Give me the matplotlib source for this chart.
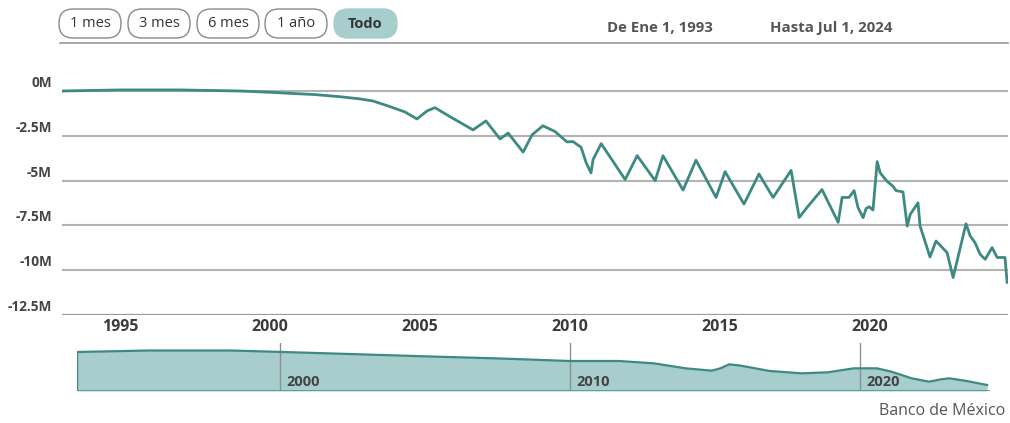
import matplotlib
matplotlib.use("Agg")
import matplotlib.pyplot as plt
from matplotlib.patches import FancyBboxPatch

plt.rcParams["font.family"] = ["Open Sans", "DejaVu Sans"]

# Balance series (millions), fractional years
years = [1993.00, 1994.93, 1996.93, 1998.93, 1999.93, 2000.60, 2001.43, 2002.27,
         2002.93, 2003.37, 2003.93, 2004.43, 2004.83, 2005.17, 2005.43, 2005.93,
         2006.70, 2007.13, 2007.60, 2007.87, 2008.37, 2008.67, 2009.03, 2009.43,
         2009.83, 2010.03, 2010.30, 2010.47, 2010.63, 2010.70, 2010.97, 2011.77,
         2012.17, 2012.77, 2013.03, 2013.70, 2014.13, 2014.80, 2015.10, 2015.73,
         2016.23, 2016.70, 2017.30, 2017.57, 2017.83, 2018.33, 2018.87, 2019.00,
         2019.23, 2019.40, 2019.53, 2019.70, 2019.80, 2019.90, 2020.03, 2020.17,
         2020.27, 2020.50, 2020.70, 2020.80, 2021.03, 2021.17, 2021.27, 2021.53,
         2021.60, 2021.93, 2022.13, 2022.50, 2022.70, 2023.13, 2023.27, 2023.43,
         2023.60, 2023.77, 2024.00, 2024.17, 2024.43, 2024.50]
values = [0.00, 0.06, 0.06, 0.00, -0.07, -0.13, -0.20, -0.32,
          -0.44, -0.56, -0.87, -1.17, -1.56, -1.11, -0.93, -1.43,
          -2.17, -1.67, -2.68, -2.35, -3.41, -2.44, -1.94, -2.26,
          -2.84, -2.82, -3.14, -4.00, -4.57, -3.83, -2.94, -4.94,
          -3.61, -5.00, -3.61, -5.53, -3.86, -5.94, -4.50, -6.31,
          -4.63, -5.94, -4.43, -7.06, -6.50, -5.50, -7.33, -5.94,
          -5.94, -5.56, -6.50, -7.07, -6.56, -6.46, -6.64, -3.94,
          -4.57, -5.04, -5.32, -5.56, -5.63, -7.54, -6.89, -6.24,
          -7.54, -9.26, -8.37, -9.02, -10.41, -7.41, -8.09, -8.46,
          -9.11, -9.39, -8.74, -9.29, -9.29, -10.68]

# Overview (navigator) series
nav_years = [1993.0, 1995.5, 1998.3, 2000.1, 2002.4, 2005.2, 2007.6, 2010.0,
             2011.7, 2012.9, 2014.0, 2014.9, 2015.2, 2015.5, 2015.9, 2016.9,
             2018.0, 2018.9, 2019.8, 2020.6, 2021.1, 2021.8, 2022.4, 2022.8,
             2023.1, 2023.7, 2024.4]
nav_values = [-0.6, -0.15, -0.15, -0.6, -1.2, -1.95, -2.55, -3.3,
              -3.3, -4.0, -5.5, -6.2, -5.5, -4.3, -4.7, -6.3,
              -7.0, -6.7, -5.5, -5.5, -6.5, -8.5, -9.5, -8.8,
              -8.5, -9.3, -10.5]

y_ticks = [0, -2.5, -5, -7.5, -10, -12.5]
y_labels = ["0M", "-2.5M", "-5M", "-7.5M", "-10M", "-12.5M"]
x_ticks = [1995, 2000, 2005, 2010, 2015, 2020]
nav_ticks = [2000, 2010, 2020]
buttons = ["1 mes", "3 mes", "6 mes", "1 año", "Todo"]

W, H = 1010, 423
LINE = "#3d8a82"
FILL = "#a8cdcd"
TXT = "#444444"

fig = plt.figure(figsize=(W / 100, H / 100), dpi=100)


def box(x0, y0, x1, y1):
    return [x0 / W, 1 - y1 / H, (x1 - x0) / W, (y1 - y0) / H]


# Main chart
ax = fig.add_axes(box(62, 60, 1008, 315))
ax.set_xlim(1993.0, 2024.53)
ax.set_ylim(-12.5, 1.73)
for t in y_ticks[:-1]:
    ax.axhline(t, color="#b3b3b3", lw=1.5, zorder=1)
ax.axhline(-12.5, color="#9a9a9a", lw=1.6, zorder=1)
ax.plot(years, values, color=LINE, lw=2.0, zorder=3, solid_joinstyle="round")
for t, lab in zip(y_ticks, y_labels):
    ax.annotate(lab, xy=(0, t), xycoords=("axes fraction", "data"),
                xytext=(-10, 8), textcoords="offset pixels",
                ha="right", va="center", fontsize=9.8, fontweight="bold",
                color=TXT)
for t in x_ticks:
    ax.annotate(str(t), xy=(t, -12.5), xycoords="data",
                xytext=(-2, -12), textcoords="offset pixels",
                ha="center", va="center", fontsize=11.5, fontweight="bold",
                color="#3a3a3a")
ax.axis("off")

# Navigator
nav = fig.add_axes(box(77, 343, 990, 391))
nav.set_xlim(1993.0, 2024.5)
nav.set_ylim(-12.3, 2.1)
nav.fill_between(nav_years, nav_values, -12.3, color=FILL, lw=0, zorder=1)
nav.plot(nav_years, nav_values, color=LINE, lw=1.6, zorder=3)
nav.plot([nav_years[0], nav_years[0]], [-12.3, nav_values[0]], color=LINE, lw=1.0)
nav.axhline(-12.15, color="#4f9c94", lw=2.0, zorder=4)
for t in nav_ticks:
    nav.plot([t, t], [-12.3, 2.1], color="#8f8f8f", lw=1.0, zorder=2)
    nav.annotate(str(t), xy=(t, -9.5), xycoords="data",
                 xytext=(7, 0), textcoords="offset pixels",
                 ha="left", va="center", fontsize=10.5, fontweight="bold",
                 color="#444444", zorder=5)
nav.axis("off")

# Overlay for controls and captions (pixel coordinates)
ov = fig.add_axes([0, 0, 1, 1], zorder=-1)
ov.set_xlim(0, W)
ov.set_ylim(H, 0)
ov.axis("off")

bx = [(58, 122), (127, 191), (196, 260), (264, 328), (333, 398)]
for (x0, x1), lab in zip(bx, buttons):
    active = lab == "Todo"
    p = FancyBboxPatch((x0 + 1, 9), x1 - x0 - 2, 29,
                       boxstyle="round,pad=0,rounding_size=14",
                       fc=FILL if active else "white",
                       ec=FILL if active else "#8a8a8a", lw=1.0)
    ov.add_patch(p)
    ov.text((x0 + x1) / 2, 23.5, lab, ha="center", va="center",
            fontsize=10.5, color="#333333",
            fontweight="bold" if active else "normal")

ov.plot([60, 1008], [43.5, 43.5], color="#9a9a9a", lw=1.2)
ov.text(660, 28, "De Ene 1, 1993", ha="center", va="center",
        fontsize=10.8, fontweight="bold", color="#555555")
ov.text(831, 28, "Hasta Jul 1, 2024", ha="center", va="center",
        fontsize=10.8, fontweight="bold", color="#555555")
ov.text(1005, 411, "Banco de México", ha="right", va="center",
        fontsize=11.5, color="#555555")

fig.savefig("out.png", dpi=100, facecolor="white")
